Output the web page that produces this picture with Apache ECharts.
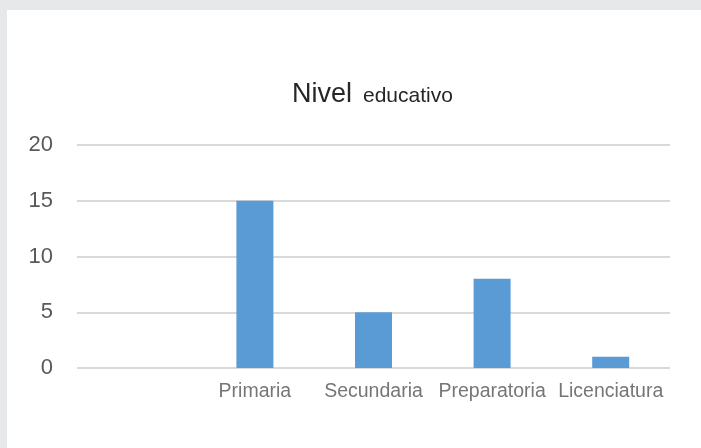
<!DOCTYPE html>
<html>
<head>
<meta charset="utf-8">
<script src="https://cdn.jsdelivr.net/npm/echarts@6/dist/echarts.min.js"></script>
<style>
html,body{margin:0;padding:0;background:#e7e8ea;width:701px;height:448px;overflow:hidden;}
#panel{position:absolute;left:7px;top:10px;width:694px;height:438px;background:#ffffff;}
#chart{position:absolute;left:0;top:0;width:701px;height:448px;}
</style>
</head>
<body>
<div id="panel"></div>
<div id="chart"></div>
<script>
const categories = ['', 'Primaria', 'Secundaria', 'Preparatoria', 'Licenciatura'];
const values = [null, 15, 5, 8, 1];
const yTicks = [0, 5, 10, 15, 20];
const titleMain = 'Nivel';
const titleSub = 'educativo';

const chart = echarts.init(document.getElementById('chart'), null, {renderer: 'canvas'});
chart.setOption({
  backgroundColor: 'transparent',
  animation: false,
  title: [
    {
      text: titleMain,
      left: 292, top: 81, padding: 0,
      textStyle: {fontFamily: 'Liberation Sans', fontSize: 27, fontWeight: 'normal', color: '#262626'}
    },
    {
      text: titleSub,
      left: 363, top: 86, padding: 0,
      textStyle: {fontFamily: 'Liberation Sans', fontSize: 21, fontWeight: 'normal', color: '#262626'}
    }
  ],
  grid: {left: 77, right: 31, top: 145, bottom: 80, containLabel: false},
  xAxis: {
    type: 'category',
    data: categories,
    axisLine: {show: false},
    axisTick: {show: false},
    axisLabel: {color: '#767676', fontFamily: 'Liberation Sans', fontSize: 19.5, margin: 14, interval: 0}
  },
  yAxis: {
    type: 'value',
    min: yTicks[0],
    max: yTicks[yTicks.length - 1],
    interval: 5,
    axisLine: {show: false},
    axisTick: {show: false},
    axisLabel: {color: '#595959', fontFamily: 'Liberation Sans', fontSize: 22, margin: 24},
    splitLine: {lineStyle: {color: '#d9d9d9', width: 2}}
  },
  series: [{
    type: 'bar',
    data: values,
    barWidth: 37,
    itemStyle: {color: '#5b9bd5'}
  }]
});
</script>
</body>
</html>
